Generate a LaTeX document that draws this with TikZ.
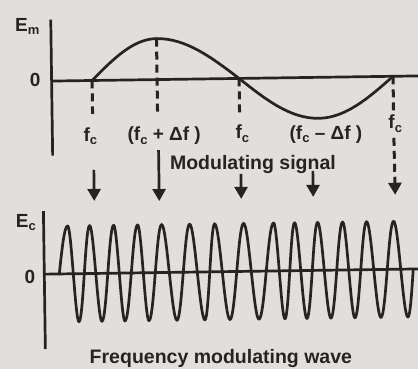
\documentclass[tikz,border=0pt]{standalone}
\usepackage{fontspec}
\setmainfont{Liberation Sans}
\usetikzlibrary{arrows.meta}
\definecolor{paper}{RGB}{224,223,219}
\definecolor{ink}{RGB}{38,36,34}
\newcommand\sbc[1]{\raisebox{-0.35ex}{\fontsize{13}{13}\selectfont #1}}
\begin{document}
\begin{tikzpicture}[x=1pt,y=-1pt,
  every node/.style={inner sep=0pt,text=ink,font=\fontsize{19}{21}\selectfont\bfseries},
  caption/.style={font=\fontsize{19.5}{21}\selectfont\bfseries},
  axisline/.style={draw=ink,line width=2.7pt},
  curve/.style={draw=ink,line width=2.7pt,line cap=round,line join=round},
  dashline/.style={draw=ink,line width=3pt,dash pattern=on 8pt off 5pt},
  arr/.style={draw=ink,line width=2.7pt,-{Triangle[width=13pt,length=12pt]}}]
\fill[paper] (0,0) rectangle (418,369);
\useasboundingbox (0,0) rectangle (418,369);
\begin{scope}[rotate around={0.8:(235,180)}]
\def\A{78.5}
% ---------- top: modulating signal ----------
\draw[axisline] (53,17) -- (53,153);
\draw[axisline] (53,\A) -- (425,\A);
\node[anchor=base west] (em) at (17,28) {E\sbc{m}};
\node[anchor=base west] (z1) at (31,84) {0};
\draw[curve] (93.5,\A) sin (158.5,37.5) cos (240.5,\A) sin (319.5,119.5) cos (394.5,\A);
% dashed markers
\coordinate (d1t) at (93.5,\A);  \coordinate (d1b) at (93.5,112);
\coordinate (d2t) at (158.5,37.5); \coordinate (d2b) at (158.5,114);
\coordinate (d3t) at (240.5,\A); \coordinate (d3b) at (240.5,116);
\coordinate (d5t) at (394.5,\A); \coordinate (d5m) at (394.5,113);
\coordinate (d5n) at (394.5,140); \coordinate (d5b) at (395,197);
\draw[dashline] (d1t) -- (d1b);
\draw[dashline] (d2t) -- (d2b);
\draw[dashline] (d3t) -- (d3b);
\draw[dashline] (d5t) -- (d5m);
\draw[dashline,-{Triangle[width=13pt,length=12pt]}] (d5n) -- (d5b);
% labels
\node[anchor=base west] (l1) at (84,139) {f\sbc{c}};
\node[anchor=base west] (l2) at (128,139) {(f\sbc{c} + Δf )};
\node[anchor=base west] (l3) at (236,139) {f\sbc{c}};
\node[anchor=base west] (l4) at (290,140) {(f\sbc{c} – Δf )};
\node[anchor=base west] (l5) at (389,131) {f\sbc{c}};
\node[anchor=base west,caption] (ms) at (170,169) {Modulating signal};
% arrows
\coordinate (a1s) at (94,168);  \coordinate (a1e) at (94,199);
\coordinate (a2s) at (159,149); \coordinate (a2e) at (159,200);
\coordinate (a3s) at (241,174); \coordinate (a3e) at (241,199);
\coordinate (a4s) at (313,172); \coordinate (a4e) at (313,198);
\draw[arr] (a1s) -- (a1e);
\draw[arr] (a2s) -- (a2e);
\draw[arr] (a3s) -- (a3e);
\draw[arr] (a4s) -- (a4e);
% ---------- bottom: FM wave ----------
\def\B{271.5}\def\P{223.5}\def\T{319.5}
\draw[axisline] (43,208.5) -- (43,346.5);
\draw[axisline] (43,\B) -- (425,\B);
\node[anchor=base west] (ec) at (15,224) {E\sbc{c}};
\node[anchor=base west] (z2) at (23,281) {0};
\draw[curve] (58,\B)
  sin (67,\P) cos (72,\B) sin (77,\T) cos (83,\B)
  sin (89,\P) cos (94.5,\B) sin (100,\T) cos (106.5,\B)
  sin (113,\P) cos (118,\B) sin (123,\T) cos (130,\B)
  sin (137,\P) cos (142,\B) sin (147,\T) cos (154,\B)
  sin (161,\P) cos (168,\B) sin (175,\T) cos (182,\B)
  sin (189,\P) cos (196,\B) sin (203,\T) cos (208.5,\B)
  sin (214,\P) cos (221,\B) sin (228,\T) cos (235.5,\B)
  sin (243,\P) cos (250,\B) sin (257,\T) cos (265,\B)
  sin (273,\P) cos (278,\B) sin (283,\T) cos (288.5,\B)
  sin (294,\P) cos (299.5,\B) sin (305,\T) cos (311,\B)
  sin (317,\P) cos (323,\B) sin (329,\T) cos (335.5,\B)
  sin (342,\P) cos (347.5,\B) sin (353,\T) cos (359.5,\B)
  sin (366,\P) cos (372.5,\B) sin (379,\T) cos (386,\B)
  sin (393,\P) cos (399.5,\B) sin (406,\T) cos (412,\B);
\node[anchor=base west,caption] (fm) at (87,361) {Frequency modulating wave};
\end{scope}
\end{tikzpicture}
\end{document}
